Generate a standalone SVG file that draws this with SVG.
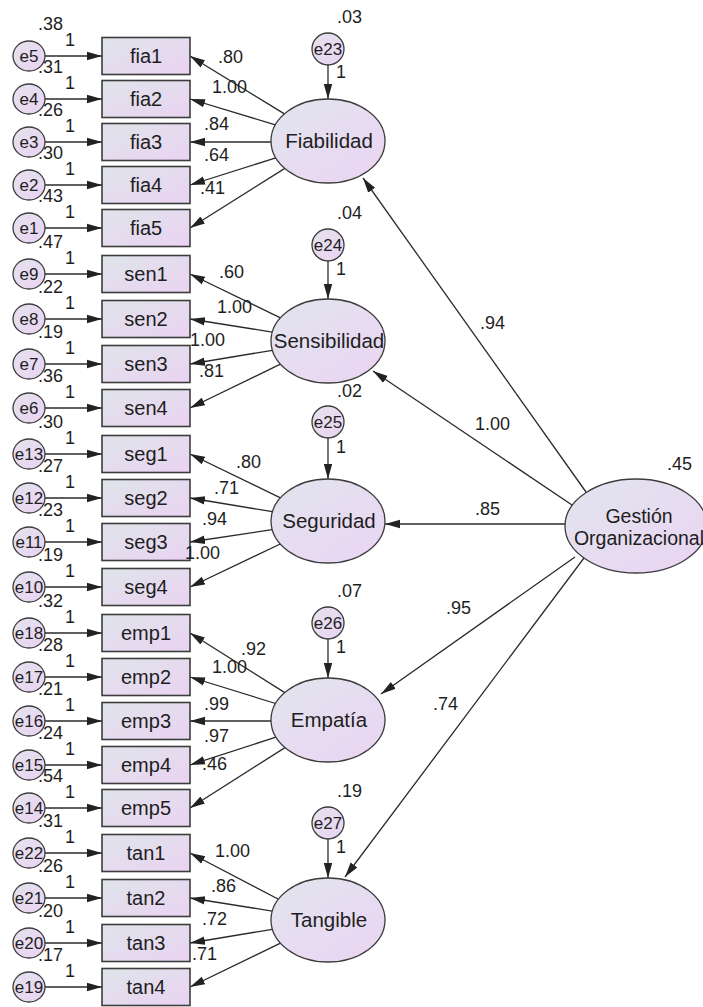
<svg xmlns="http://www.w3.org/2000/svg" width="703" height="1007" viewBox="0 0 703 1007">
<defs>
<linearGradient id="gBox" x1="0" y1="0" x2="1" y2="1"><stop offset="0" stop-color="#dfe4ea"/><stop offset="1" stop-color="#ead3f2"/></linearGradient>
<linearGradient id="gLat" x1="0" y1="0" x2="1" y2="1"><stop offset="0" stop-color="#e1e5ee"/><stop offset="1" stop-color="#ebd4f3"/></linearGradient>
<linearGradient id="gErr" x1="0" y1="0" x2="1" y2="1"><stop offset="0" stop-color="#e4e2ee"/><stop offset="1" stop-color="#ead3f2"/></linearGradient>
<marker id="ah" markerUnits="userSpaceOnUse" markerWidth="15" markerHeight="10" viewBox="0 0 15 10" refX="15" refY="5" orient="auto"><path d="M0,0.8 L15,5 L0,9.2 z" fill="#222"/></marker>
<style>
.box{fill:url(#gBox);stroke:#3c3c3c;stroke-width:1.6}
.lat{fill:url(#gLat);stroke:#3c3c3c;stroke-width:1.3}
.err{fill:url(#gErr);stroke:#3c3c3c;stroke-width:1.3}
text{font-family:"Liberation Sans",Arial,sans-serif;fill:#1e1e1e}
.lbl{font-size:20px;text-anchor:middle}
.lat-l{font-size:20.5px;text-anchor:middle}
.go{font-size:19.5px;text-anchor:middle}
.el{font-size:17px;text-anchor:middle}
.num{font-size:18px}
.c{stroke:#2a2a2a;stroke-width:1.3;fill:none;marker-end:url(#ah)}
</style>
</defs>
<rect width="703" height="1007" fill="#ffffff"/>

<g id="connectors">
<line class="c" x1="45" y1="56" x2="102" y2="56"/>
<line class="c" x1="45" y1="99" x2="102" y2="99"/>
<line class="c" x1="45" y1="142" x2="102" y2="142"/>
<line class="c" x1="45" y1="185" x2="102" y2="185"/>
<line class="c" x1="45" y1="228" x2="102" y2="228"/>
<line class="c" x1="45" y1="274" x2="102" y2="274"/>
<line class="c" x1="45" y1="319" x2="102" y2="319"/>
<line class="c" x1="45" y1="364" x2="102" y2="364"/>
<line class="c" x1="45" y1="408" x2="102" y2="408"/>
<line class="c" x1="45" y1="454" x2="102" y2="454"/>
<line class="c" x1="45" y1="498" x2="102" y2="498"/>
<line class="c" x1="45" y1="542" x2="102" y2="542"/>
<line class="c" x1="45" y1="587" x2="102" y2="587"/>
<line class="c" x1="45" y1="633" x2="102" y2="633"/>
<line class="c" x1="45" y1="677" x2="102" y2="677"/>
<line class="c" x1="45" y1="721" x2="102" y2="721"/>
<line class="c" x1="45" y1="765" x2="102" y2="765"/>
<line class="c" x1="45" y1="808" x2="102" y2="808"/>
<line class="c" x1="45" y1="853" x2="102" y2="853"/>
<line class="c" x1="45" y1="898" x2="102" y2="898"/>
<line class="c" x1="45" y1="943" x2="102" y2="943"/>
<line class="c" x1="45" y1="987" x2="102" y2="987"/>
<line class="c" x1="284.4" y1="113.9" x2="190" y2="56"/>
<line class="c" x1="275.4" y1="124.9" x2="190" y2="99"/>
<line class="c" x1="271" y1="142" x2="190" y2="142"/>
<line class="c" x1="275.8" y1="157.8" x2="190" y2="185"/>
<line class="c" x1="284.8" y1="168.4" x2="190" y2="228"/>
<line class="c" x1="280.5" y1="317.8" x2="190" y2="274"/>
<line class="c" x1="272.3" y1="332.1" x2="190" y2="319"/>
<line class="c" x1="272.4" y1="350.3" x2="190" y2="364"/>
<line class="c" x1="280.5" y1="364.2" x2="190" y2="408"/>
<line class="c" x1="280.5" y1="497.8" x2="190" y2="454"/>
<line class="c" x1="272.4" y1="511.7" x2="190" y2="498"/>
<line class="c" x1="272.2" y1="529.6" x2="190" y2="542"/>
<line class="c" x1="280.3" y1="544" x2="190" y2="587"/>
<line class="c" x1="284.8" y1="692.6" x2="190" y2="633"/>
<line class="c" x1="275.6" y1="703.5" x2="190" y2="677"/>
<line class="c" x1="271" y1="721" x2="190" y2="721"/>
<line class="c" x1="275.9" y1="737.1" x2="190" y2="765"/>
<line class="c" x1="285" y1="747.6" x2="190" y2="808"/>
<line class="c" x1="278" y1="899" x2="190" y2="853"/>
<line class="c" x1="272.3" y1="911.1" x2="190" y2="898"/>
<line class="c" x1="272.4" y1="929.3" x2="190" y2="943"/>
<line class="c" x1="280.5" y1="943.2" x2="190" y2="987"/>
<line class="c" x1="328" y1="65" x2="328" y2="99"/>
<line class="c" x1="328" y1="261" x2="328" y2="299"/>
<line class="c" x1="328" y1="438" x2="328" y2="479"/>
<line class="c" x1="328" y1="639" x2="328" y2="678"/>
<line class="c" x1="328" y1="839" x2="328" y2="878"/>
<line class="c" x1="586" y1="492" x2="363" y2="178"/>
<line class="c" x1="572" y1="505" x2="373" y2="371"/>
<line class="c" x1="565" y1="524" x2="385" y2="524"/>
<line class="c" x1="575" y1="557" x2="381" y2="694"/>
<line class="c" x1="584" y1="558" x2="345" y2="877"/>
</g>

<g id="fia1"><rect class="box" x="102" y="37.5" width="88" height="37"/><text class="lbl" x="146" y="63">fia1</text></g>
<g id="fia2"><rect class="box" x="102" y="80.5" width="88" height="37"/><text class="lbl" x="146" y="106">fia2</text></g>
<g id="fia3"><rect class="box" x="102" y="123.5" width="88" height="37"/><text class="lbl" x="146" y="149">fia3</text></g>
<g id="fia4"><rect class="box" x="102" y="166.5" width="88" height="37"/><text class="lbl" x="146" y="192">fia4</text></g>
<g id="fia5"><rect class="box" x="102" y="209.5" width="88" height="37"/><text class="lbl" x="146" y="235">fia5</text></g>
<g id="sen1"><rect class="box" x="102" y="255.5" width="88" height="37"/><text class="lbl" x="146" y="281">sen1</text></g>
<g id="sen2"><rect class="box" x="102" y="300.5" width="88" height="37"/><text class="lbl" x="146" y="326">sen2</text></g>
<g id="sen3"><rect class="box" x="102" y="345.5" width="88" height="37"/><text class="lbl" x="146" y="371">sen3</text></g>
<g id="sen4"><rect class="box" x="102" y="389.5" width="88" height="37"/><text class="lbl" x="146" y="415">sen4</text></g>
<g id="seg1"><rect class="box" x="102" y="435.5" width="88" height="37"/><text class="lbl" x="146" y="461">seg1</text></g>
<g id="seg2"><rect class="box" x="102" y="479.5" width="88" height="37"/><text class="lbl" x="146" y="505">seg2</text></g>
<g id="seg3"><rect class="box" x="102" y="523.5" width="88" height="37"/><text class="lbl" x="146" y="549">seg3</text></g>
<g id="seg4"><rect class="box" x="102" y="568.5" width="88" height="37"/><text class="lbl" x="146" y="594">seg4</text></g>
<g id="emp1"><rect class="box" x="102" y="614.5" width="88" height="37"/><text class="lbl" x="146" y="640">emp1</text></g>
<g id="emp2"><rect class="box" x="102" y="658.5" width="88" height="37"/><text class="lbl" x="146" y="684">emp2</text></g>
<g id="emp3"><rect class="box" x="102" y="702.5" width="88" height="37"/><text class="lbl" x="146" y="728">emp3</text></g>
<g id="emp4"><rect class="box" x="102" y="746.5" width="88" height="37"/><text class="lbl" x="146" y="772">emp4</text></g>
<g id="emp5"><rect class="box" x="102" y="789.5" width="88" height="37"/><text class="lbl" x="146" y="815">emp5</text></g>
<g id="tan1"><rect class="box" x="102" y="834.5" width="88" height="37"/><text class="lbl" x="146" y="860">tan1</text></g>
<g id="tan2"><rect class="box" x="102" y="879.5" width="88" height="37"/><text class="lbl" x="146" y="905">tan2</text></g>
<g id="tan3"><rect class="box" x="102" y="924.5" width="88" height="37"/><text class="lbl" x="146" y="950">tan3</text></g>
<g id="tan4"><rect class="box" x="102" y="968.5" width="88" height="37"/><text class="lbl" x="146" y="994">tan4</text></g>

<g id="e5"><ellipse class="err" cx="29" cy="56" rx="16" ry="15"/><text class="el" x="29" y="62">e5</text><text class="num" x="38" y="30">.38</text><text class="num" x="65" y="46">1</text></g>
<g id="e4"><ellipse class="err" cx="29" cy="99" rx="16" ry="15"/><text class="el" x="29" y="105">e4</text><text class="num" x="38" y="73">.31</text><text class="num" x="65" y="89">1</text></g>
<g id="e3"><ellipse class="err" cx="29" cy="142" rx="16" ry="15"/><text class="el" x="29" y="148">e3</text><text class="num" x="38" y="116">.26</text><text class="num" x="65" y="132">1</text></g>
<g id="e2"><ellipse class="err" cx="29" cy="185" rx="16" ry="15"/><text class="el" x="29" y="191">e2</text><text class="num" x="38" y="159">.30</text><text class="num" x="65" y="175">1</text></g>
<g id="e1"><ellipse class="err" cx="29" cy="228" rx="16" ry="15"/><text class="el" x="29" y="234">e1</text><text class="num" x="38" y="202">.43</text><text class="num" x="65" y="218">1</text></g>
<g id="e9"><ellipse class="err" cx="29" cy="274" rx="16" ry="15"/><text class="el" x="29" y="280">e9</text><text class="num" x="38" y="248">.47</text><text class="num" x="65" y="264">1</text></g>
<g id="e8"><ellipse class="err" cx="29" cy="319" rx="16" ry="15"/><text class="el" x="29" y="325">e8</text><text class="num" x="38" y="293">.22</text><text class="num" x="65" y="309">1</text></g>
<g id="e7"><ellipse class="err" cx="29" cy="364" rx="16" ry="15"/><text class="el" x="29" y="370">e7</text><text class="num" x="38" y="338">.19</text><text class="num" x="65" y="354">1</text></g>
<g id="e6"><ellipse class="err" cx="29" cy="408" rx="16" ry="15"/><text class="el" x="29" y="414">e6</text><text class="num" x="38" y="382">.36</text><text class="num" x="65" y="398">1</text></g>
<g id="e13"><ellipse class="err" cx="29" cy="454" rx="16" ry="15"/><text class="el" x="29" y="460">e13</text><text class="num" x="38" y="428">.30</text><text class="num" x="65" y="444">1</text></g>
<g id="e12"><ellipse class="err" cx="29" cy="498" rx="16" ry="15"/><text class="el" x="29" y="504">e12</text><text class="num" x="38" y="472">.27</text><text class="num" x="65" y="488">1</text></g>
<g id="e11"><ellipse class="err" cx="29" cy="542" rx="16" ry="15"/><text class="el" x="29" y="548">e11</text><text class="num" x="38" y="516">.23</text><text class="num" x="65" y="532">1</text></g>
<g id="e10"><ellipse class="err" cx="29" cy="587" rx="16" ry="15"/><text class="el" x="29" y="593">e10</text><text class="num" x="38" y="561">.19</text><text class="num" x="65" y="577">1</text></g>
<g id="e18"><ellipse class="err" cx="29" cy="633" rx="16" ry="15"/><text class="el" x="29" y="639">e18</text><text class="num" x="38" y="607">.32</text><text class="num" x="65" y="623">1</text></g>
<g id="e17"><ellipse class="err" cx="29" cy="677" rx="16" ry="15"/><text class="el" x="29" y="683">e17</text><text class="num" x="38" y="651">.28</text><text class="num" x="65" y="667">1</text></g>
<g id="e16"><ellipse class="err" cx="29" cy="721" rx="16" ry="15"/><text class="el" x="29" y="727">e16</text><text class="num" x="38" y="695">.21</text><text class="num" x="65" y="711">1</text></g>
<g id="e15"><ellipse class="err" cx="29" cy="765" rx="16" ry="15"/><text class="el" x="29" y="771">e15</text><text class="num" x="38" y="739">.24</text><text class="num" x="65" y="755">1</text></g>
<g id="e14"><ellipse class="err" cx="29" cy="808" rx="16" ry="15"/><text class="el" x="29" y="814">e14</text><text class="num" x="38" y="782">.54</text><text class="num" x="65" y="798">1</text></g>
<g id="e22"><ellipse class="err" cx="29" cy="853" rx="16" ry="15"/><text class="el" x="29" y="859">e22</text><text class="num" x="38" y="827">.31</text><text class="num" x="65" y="843">1</text></g>
<g id="e21"><ellipse class="err" cx="29" cy="898" rx="16" ry="15"/><text class="el" x="29" y="904">e21</text><text class="num" x="38" y="872">.26</text><text class="num" x="65" y="888">1</text></g>
<g id="e20"><ellipse class="err" cx="29" cy="943" rx="16" ry="15"/><text class="el" x="29" y="949">e20</text><text class="num" x="38" y="917">.20</text><text class="num" x="65" y="933">1</text></g>
<g id="e19"><ellipse class="err" cx="29" cy="987" rx="16" ry="15"/><text class="el" x="29" y="993">e19</text><text class="num" x="38" y="961">.17</text><text class="num" x="65" y="977">1</text></g>

<g id="e23"><circle class="err" cx="328" cy="49" r="16"/><text class="el" x="328" y="55">e23</text><text class="num" x="337" y="23">.03</text><text class="num" x="336" y="78">1</text></g>
<g id="e24"><circle class="err" cx="328" cy="245" r="16"/><text class="el" x="328" y="251">e24</text><text class="num" x="337" y="219">.04</text><text class="num" x="336" y="275">1</text></g>
<g id="e25"><circle class="err" cx="328" cy="422" r="16"/><text class="el" x="328" y="428">e25</text><text class="num" x="337" y="397">.02</text><text class="num" x="336" y="453">1</text></g>
<g id="e26"><circle class="err" cx="328" cy="623" r="16"/><text class="el" x="328" y="629">e26</text><text class="num" x="337" y="597">.07</text><text class="num" x="336" y="653">1</text></g>
<g id="e27"><circle class="err" cx="328" cy="823" r="16"/><text class="el" x="328" y="829">e27</text><text class="num" x="337" y="797">.19</text><text class="num" x="336" y="853">1</text></g>

<g id="Fiabilidad"><ellipse class="lat" cx="328" cy="141" rx="57" ry="42"/><text class="lat-l" x="329" y="148">Fiabilidad</text>
<text class="num" x="218" y="63">.80</text><text class="num" x="212" y="93">1.00</text><text class="num" x="204" y="130">.84</text><text class="num" x="204" y="161">.64</text><text class="num" x="200" y="194">.41</text></g>
<g id="Sensibilidad"><ellipse class="lat" cx="328" cy="341" rx="57" ry="42"/><text class="lat-l" x="329" y="348">Sensibilidad</text>
<text class="num" x="219" y="278">.60</text><text class="num" x="217" y="313">1.00</text><text class="num" x="190" y="346">1.00</text><text class="num" x="199" y="377">.81</text></g>
<g id="Seguridad"><ellipse class="lat" cx="328" cy="521" rx="57" ry="42"/><text class="lat-l" x="329" y="528">Seguridad</text>
<text class="num" x="236" y="468">.80</text><text class="num" x="214" y="494">.71</text><text class="num" x="202" y="525">.94</text><text class="num" x="185" y="559">1.00</text></g>
<g id="Empatia"><ellipse class="lat" cx="328" cy="720" rx="57" ry="42"/><text class="lat-l" x="329" y="727">Empatía</text>
<text class="num" x="241" y="655">.92</text><text class="num" x="212" y="673">1.00</text><text class="num" x="204" y="710">.99</text><text class="num" x="204" y="742">.97</text><text class="num" x="202" y="770">.46</text></g>
<g id="Tangible"><ellipse class="lat" cx="328" cy="920" rx="57" ry="42"/><text class="lat-l" x="329" y="927">Tangible</text>
<text class="num" x="215" y="857">1.00</text><text class="num" x="211" y="892">.86</text><text class="num" x="202" y="925">.72</text><text class="num" x="192" y="960">.71</text></g>
<g id="Gestion"><ellipse class="lat" cx="636" cy="526" rx="71" ry="47"/><text class="go" x="639" y="523">Gestión</text><text class="go" x="639" y="545">Organizacional</text>
<text class="num" x="667" y="470">.45</text><text class="num" x="480" y="329">.94</text><text class="num" x="475" y="430">1.00</text><text class="num" x="475" y="515">.85</text><text class="num" x="446" y="614">.95</text><text class="num" x="433" y="710">.74</text></g>
</svg>
